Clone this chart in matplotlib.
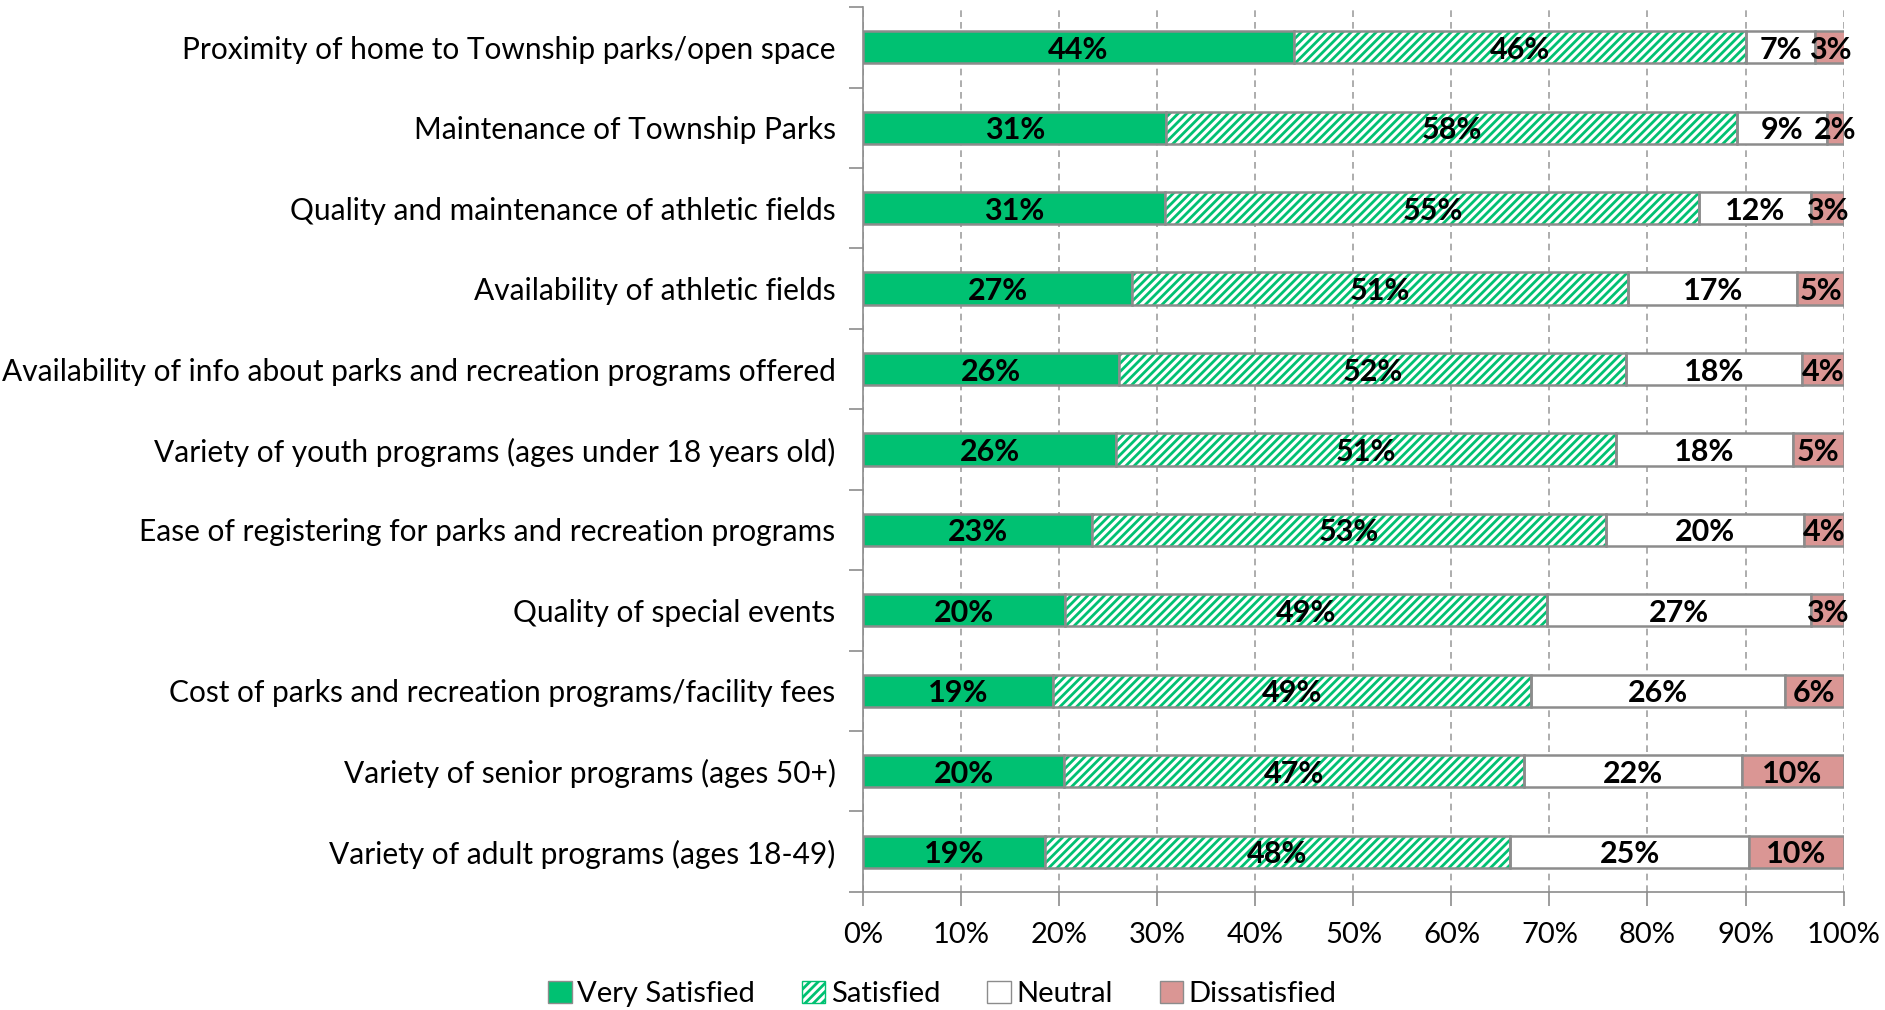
import matplotlib
matplotlib.use("Agg")
import matplotlib.pyplot as plt
from matplotlib.patches import Patch
import numpy as np

plt.rcParams["font.family"] = ["Lato", "DejaVu Sans"]
plt.rcParams["hatch.linewidth"] = 2.0

categories = [
    "Proximity of home to Township parks/open space",
    "Maintenance of Township Parks",
    "Quality and maintenance of athletic fields",
    "Availability of athletic fields",
    "Availability of info about parks and recreation programs offered",
    "Variety of youth programs (ages under 18 years old)",
    "Ease of registering for parks and recreation programs",
    "Quality of special events",
    "Cost of parks and recreation programs/facility fees",
    "Variety of senior programs (ages 50+)",
    "Variety of adult programs (ages 18-49)",
]
# bar lengths (percent)
very_satisfied = [43.9, 30.9, 30.8, 27.4, 26.1, 25.8, 23.3, 20.6, 19.3, 20.5, 18.5]
satisfied = [46.2, 58.2, 54.5, 50.6, 51.7, 51.0, 52.5, 49.1, 48.8, 46.9, 47.5]
neutral = [7.0, 9.2, 11.4, 17.3, 18.0, 18.0, 20.2, 27.0, 25.9, 22.2, 24.4]
dissatisfied = [3.0, 1.7, 3.3, 4.7, 4.2, 5.2, 4.0, 3.3, 6.0, 10.4, 9.6]
# printed labels
vs_labels = ["44%", "31%", "31%", "27%", "26%", "26%", "23%", "20%", "19%", "20%", "19%"]
s_labels = ["46%", "58%", "55%", "51%", "52%", "51%", "53%", "49%", "49%", "47%", "48%"]
n_labels = ["7%", "9%", "12%", "17%", "18%", "18%", "20%", "27%", "26%", "22%", "25%"]
d_labels = ["3%", "2%", "3%", "5%", "4%", "5%", "4%", "3%", "6%", "10%", "10%"]

GREEN = "#00C172"
PINK = "#DA9694"
EDGE = "#8C8C8C"

fig = plt.figure(figsize=(18.85, 10.1), dpi=100)
ax = fig.add_axes([0.458, 0.117, 0.520, 0.876])

y = np.arange(len(categories))
h = 0.40
left = np.zeros(len(categories))
series = [
    (very_satisfied, vs_labels, dict(color=GREEN)),
    (satisfied, s_labels, dict(color="white", hatch="////")),
    (neutral, n_labels, dict(color="white")),
    (dissatisfied, d_labels, dict(color=PINK)),
]
for vals, labs, style in series:
    vals = np.array(vals)
    if "hatch" in style:
        ax.barh(y, vals, h, left=left, facecolor="white", edgecolor=GREEN,
                hatch=style["hatch"], linewidth=0, zorder=3)
        ax.barh(y, vals, h, left=left, facecolor="none", edgecolor=EDGE,
                linewidth=1.8, zorder=4)
    else:
        ax.barh(y, vals, h, left=left, color=style["color"], edgecolor=EDGE,
                linewidth=1.8, zorder=3)
    for yi, l, v, t in zip(y, left, vals, labs):
        ax.text(l + v / 2, yi, t, ha="center", va="center_baseline", fontsize=22,
                fontweight="bold", color="black", zorder=5)
    left = left + vals

ax.set_xlim(0, 100)
ax.set_ylim(len(categories) - 0.5, -0.5)
ax.set_xticks(np.arange(0, 101, 10))
ax.set_xticklabels([f"{v}%" for v in range(0, 101, 10)], fontsize=21)
ax.set_yticks(y)
ax.set_yticklabels(categories, fontsize=21.5)
ax.set_yticks(np.arange(-0.5, len(categories), 1), minor=True)
ax.tick_params(axis="y", which="major", length=0, pad=20)
ax.tick_params(axis="y", which="minor", length=10, color=EDGE, width=1.2)
ax.tick_params(axis="x", length=10, color=EDGE, width=1.2, pad=12)
ax.grid(axis="x", linestyle=(0, (4, 3)), color="#A0A0A0", linewidth=1.2, zorder=0)
for s in ["top", "right"]:
    ax.spines[s].set_visible(False)
for s in ["left", "bottom"]:
    ax.spines[s].set_color(EDGE)
    ax.spines[s].set_linewidth(1.2)

handles = [
    Patch(facecolor=GREEN, edgecolor=EDGE, label="Very Satisfied"),
    Patch(facecolor="white", edgecolor=GREEN, hatch="////", label="Satisfied"),
    Patch(facecolor="white", edgecolor=EDGE, label="Neutral"),
    Patch(facecolor=PINK, edgecolor=EDGE, label="Dissatisfied"),
]
fig.legend(handles=handles, loc="center", bbox_to_anchor=(0.5, 0.016), ncol=4,
           frameon=False, fontsize=21, handlelength=0.8, handleheight=0.8,
           handletextpad=0.2, columnspacing=1.6)

fig.savefig("out.png", dpi=100)
